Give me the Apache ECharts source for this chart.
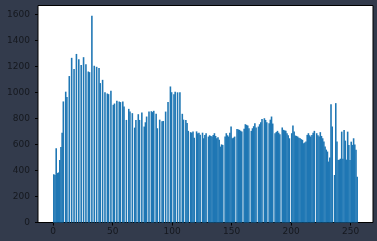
<!DOCTYPE html>
<html>
<head>
<meta charset="utf-8">
<script src="https://cdn.jsdelivr.net/npm/echarts@6/dist/echarts.min.js"></script>
<style>
html,body{margin:0;padding:0;background:#333b4c;}
#chart{width:377px;height:241px;}
</style>
</head>
<body>
<div id="chart"></div>
<script>
// bin start values (0..255)
const bins = Array.from({length: 256}, (_, i) => i);
// histogram counts per bin (0 = empty bin)
const counts = [
 370,365,570,380,385,480,580,690,930,0,
 1005,965,0,1125,0,1265,0,1180,0,1295,
 0,1255,0,1210,0,1270,0,1215,0,1160,
 1155,0,1588,0,1204,0,1196,0,1186,1071,
 0,1096,0,1001,0,991,986,0,1012,0,
 904,914,0,935,0,929,925,0,930,891,
 0,788,0,873,852,0,840,0,729,788,
 0,832,788,0,845,0,737,770,814,0,
 852,0,855,848,858,0,835,724,0,790,
 0,777,780,0,852,0,925,0,1045,1001,
 0,985,1004,0,1000,0,1001,0,835,790,
 0,788,765,704,0,694,690,700,652,0,
 700,685,690,675,0,690,647,673,686,0,
 660,670,665,660,672,686,665,647,655,635,
 583,600,596,0,660,686,670,660,690,737,
 647,652,660,0,719,715,712,705,699,0,
 720,755,750,745,724,0,704,724,740,763,
 730,0,737,755,770,796,0,801,788,770,
 0,763,790,814,760,0,686,695,704,690,
 678,0,730,712,708,704,686,670,647,0,
 686,745,700,668,665,660,652,647,640,635,
 609,615,622,673,686,670,660,673,690,704,
 0,686,670,660,694,665,647,622,583,560,
 545,468,500,909,737,0,365,917,622,480,
 483,490,698,490,711,629,483,698,596,480,
 621,596,647,600,558,352
];
const xTicks = [0, 50, 100, 150, 200, 250];
const yTicks = [0, 200, 400, 600, 800, 1000, 1200, 1400, 1600];

const data = bins.map((b, i) => [b, counts[i]]).filter(d => d[1] > 0);

const chart = echarts.init(document.getElementById('chart'), null, {renderer: 'canvas'});
const labelFont = {color: '#15181e', fontSize: 9, fontFamily: 'DejaVu Sans'};
chart.setOption({
  animation: false,
  backgroundColor: '#333b4c',
  grid: {left: 38, right: 4, top: 5.5, bottom: 18.5, show: true, backgroundColor: '#ffffff', borderColor: '#000000', borderWidth: 1},
  xAxis: {
    type: 'value', min: -12.8, max: 268.8,
    axisLine: {show: false, onZero: false},
    axisTick: {show: true, length: 3, lineStyle: {color: '#000'}, customValues: xTicks},
    axisLabel: Object.assign({margin: 5, customValues: xTicks, formatter: v => String(v)}, labelFont),
    splitLine: {show: false}
  },
  yAxis: {
    type: 'value', min: 0, max: 1667,
    axisLine: {show: false, onZero: false},
    axisTick: {show: true, length: 3, lineStyle: {color: '#000'}, customValues: yTicks},
    axisLabel: Object.assign({margin: 8, customValues: yTicks, formatter: v => String(v)}, labelFont),
    splitLine: {show: false}
  },
  series: [{
    type: 'custom',
    data: data,
    renderItem: function (params, api) {
      const b = api.value(0), v = api.value(1);
      const p0 = api.coord([b, v]);
      const p1 = api.coord([b + 1, 0]);
      return {type: 'rect', shape: {x: p0[0] - 0.2, y: p0[1], width: p1[0] - p0[0] + 0.4, height: p1[1] - p0[1]},
        style: {fill: '#1f77b4'}};
    }
  }]
});
</script>
</body>
</html>
